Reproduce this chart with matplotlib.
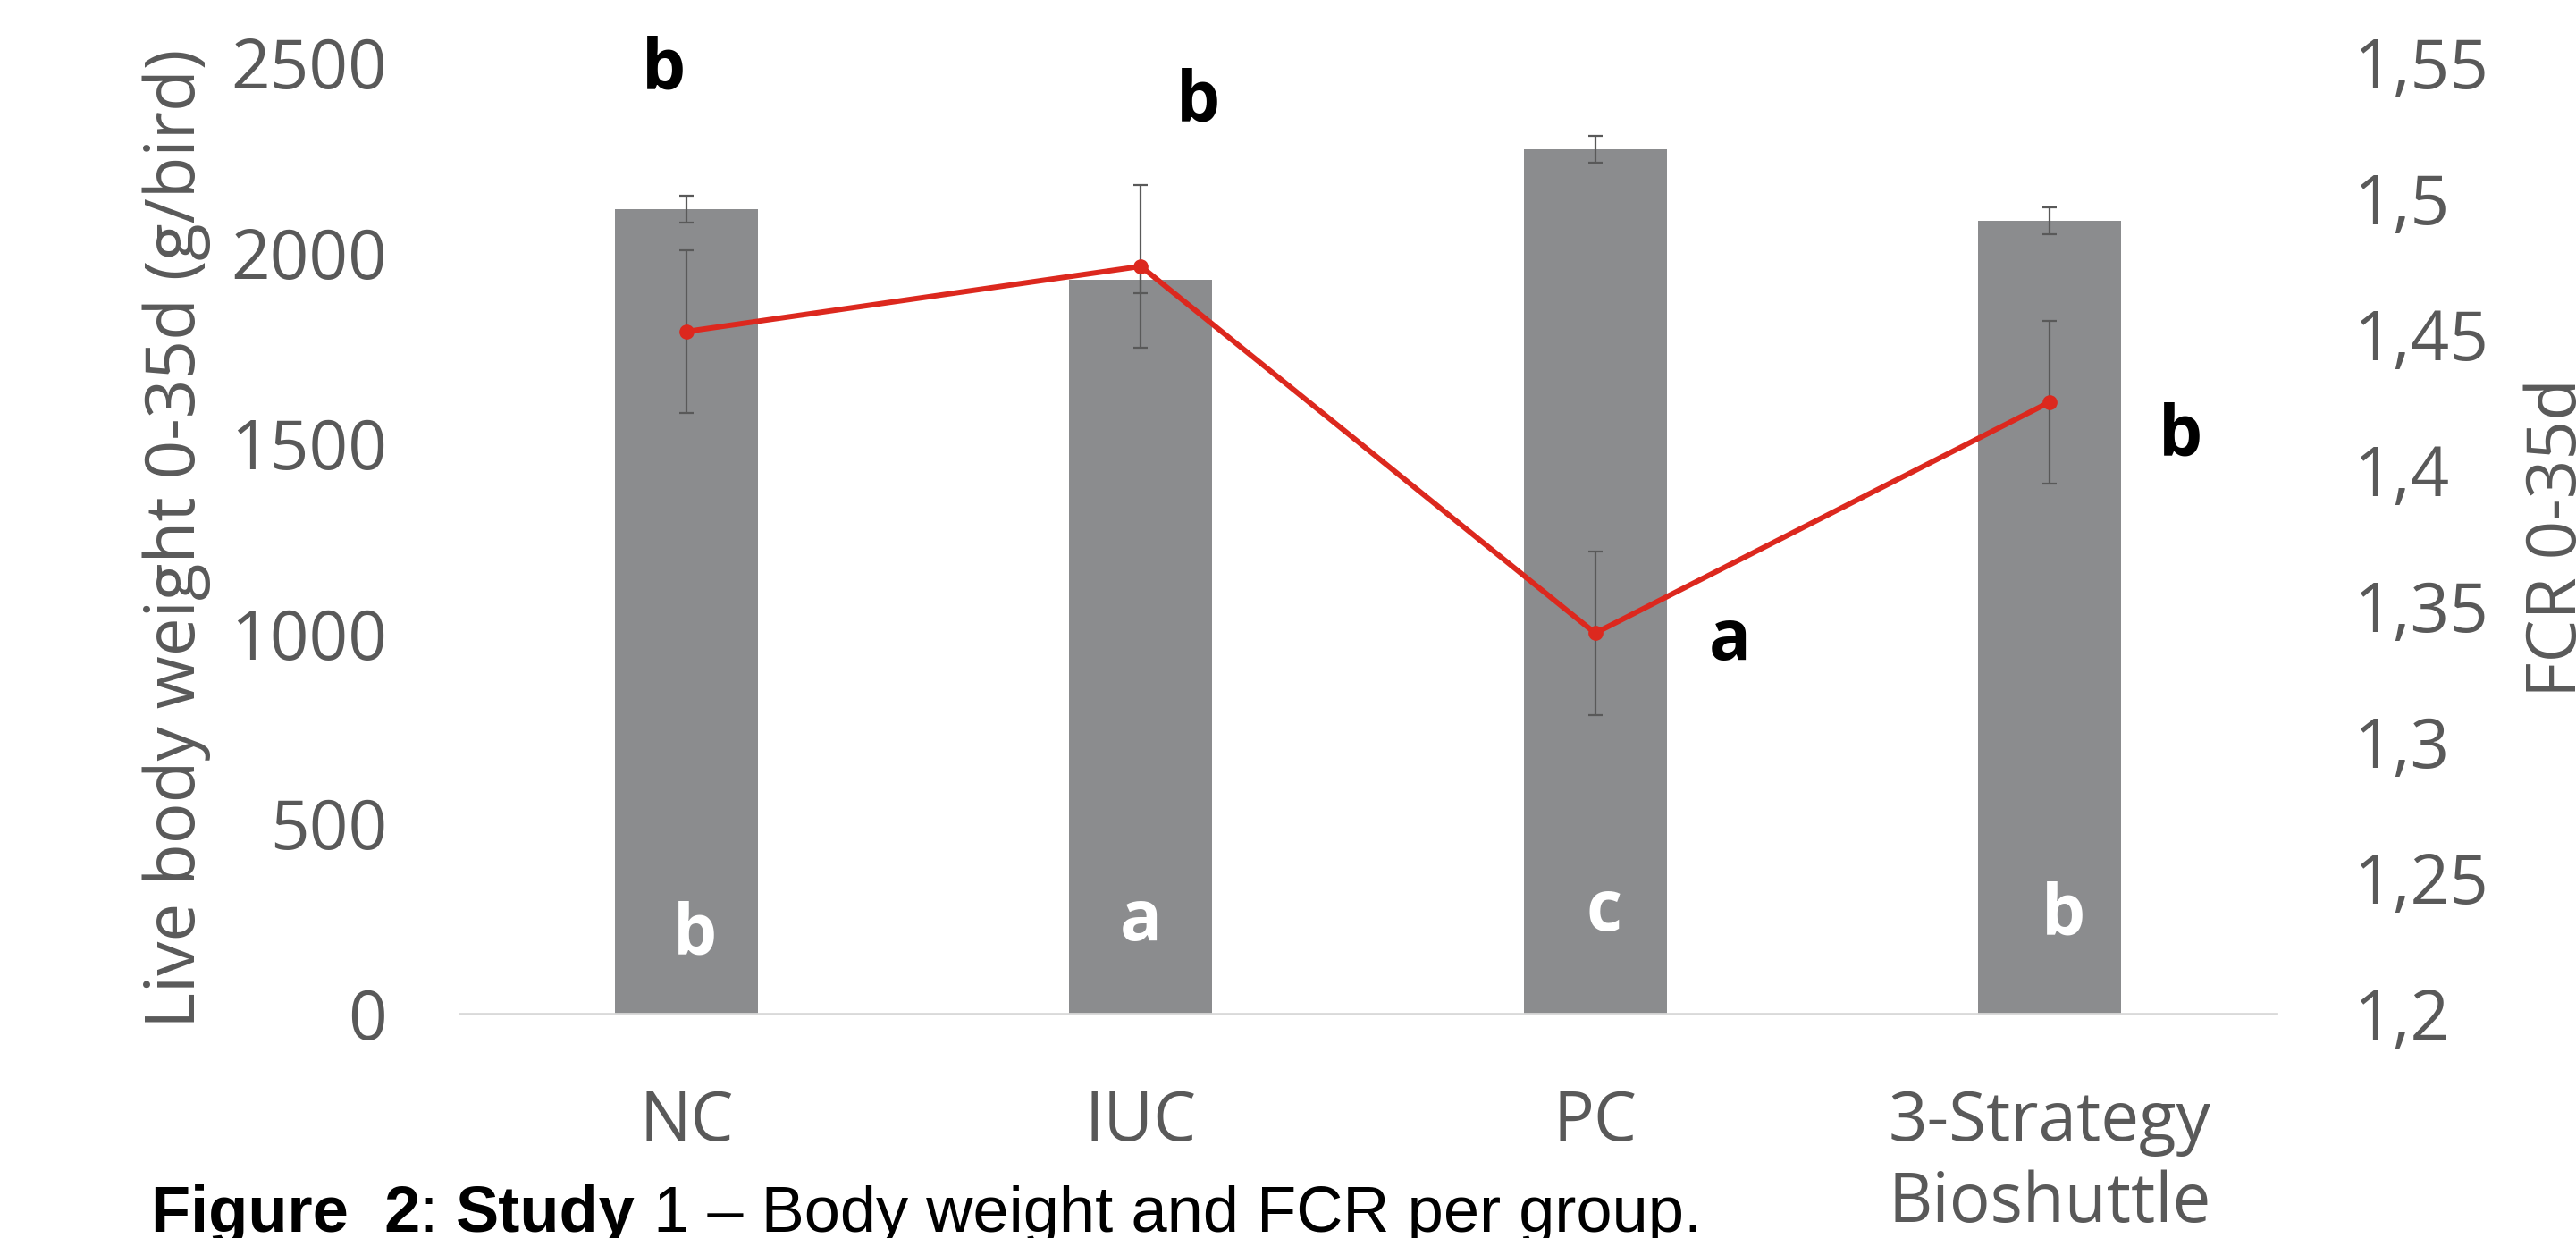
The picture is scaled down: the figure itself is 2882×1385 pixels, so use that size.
import matplotlib.pyplot as plt

# Datos de la figura
grupos = ['NC', 'IUC', 'PC', '3-Strategy\nBioshuttle']
peso = [2115, 1929, 2272, 2084]
peso_err = [35, 35, 36, 35]
fcr = [1.451, 1.475, 1.340, 1.425]
fcr_err = [0.030, 0.030, 0.030, 0.030]
letras_peso = ['b', 'a', 'c', 'b']
letras_fcr = ['b', 'b', 'a', 'b']

fcr_ticks = [1.2, 1.25, 1.3, 1.35, 1.4, 1.45, 1.5, 1.55]
fcr_labels = ['1,2', '1,25', '1,3', '1,35', '1,4', '1,45', '1,5', '1,55']

# Colores
gris = '#8b8c8e'
gris_texto = '#595959'
rojo = '#dc281e'

plt.rcParams['font.family'] = ['Open Sans', 'DejaVu Sans']

fig = plt.figure(figsize=(28.82, 13.85), dpi=100)
ax = fig.add_axes([0.1783, 0.1813, 0.7055, 0.7682])
ax2 = ax.twinx()

x = list(range(len(grupos)))

# Barras de peso vivo
ax.bar(x, peso, width=0.315, color=gris, zorder=2)
ax.errorbar(x, peso, yerr=peso_err, fmt='none', ecolor=gris_texto,
            elinewidth=1.6, capsize=6, capthick=1.6, zorder=3)

ax.set_xlim(-0.5, 3.5)
ax.set_ylim(0, 2500)
ax.set_yticks([0, 500, 1000, 1500, 2000, 2500])
ax.set_xticks(x)
ax.set_xticklabels(grupos, linespacing=1.25)
ax.tick_params(axis='y', length=0, pad=58, labelsize=55, labelcolor=gris_texto)
ax.tick_params(axis='x', length=0, pad=60, labelsize=55, labelcolor=gris_texto)
ax.set_ylabel('Live body weight 0-35d (g/bird)', fontsize=55,
              color=gris_texto, labelpad=16)

for s in ['top', 'left', 'right']:
    ax.spines[s].set_visible(False)
ax.spines['bottom'].set_color('#d9d9d9')
ax.spines['bottom'].set_linewidth(2)

# Linea de FCR
ax2.errorbar(x, fcr, yerr=fcr_err, fmt='none', ecolor=gris_texto,
             elinewidth=1.6, capsize=6, capthick=1.6, zorder=3)
ax2.plot(x, fcr, color=rojo, linewidth=4.3, marker='o', markersize=11, zorder=4)
ax2.set_ylim(1.2, 1.55)
ax2.set_yticks(fcr_ticks)
ax2.set_yticklabels(fcr_labels)
ax2.tick_params(axis='y', length=0, pad=62, labelsize=55, labelcolor=gris_texto)
ax2.set_ylabel('FCR 0-35d', fontsize=55, color=gris_texto, labelpad=28)
for s in ['top', 'left', 'right', 'bottom']:
    ax2.spines[s].set_visible(False)

# Letras de significancia (blancas dentro de las barras)
pos_blancas = [(0.018, 157), (1.0, 193), (2.02, 219), (3.03, 207)]
for (px, py), l in zip(pos_blancas, letras_peso):
    ax.text(px, py, l, color='white', fontsize=56, fontweight='bold',
            ha='center', va='baseline', zorder=5)

# Letras de significancia del FCR (negras)
pos_negras = [(-0.05, 2430), (1.126, 2347), (2.296, 930), (3.289, 1466)]
for (px, py), l in zip(pos_negras, letras_fcr):
    ax.text(px, py, l, color='black', fontsize=56, fontweight='bold',
            ha='center', va='baseline', zorder=5)

# Pie de figura con partes en negrita
partes = [('Figure  2', 'bold'), (': ', 'normal'), ('Study', 'bold'),
          (' 1 \u2013 Body weight and FCR per group.', 'normal')]
t = fig.text(0.0586, 0.005, partes[0][0], fontsize=52, fontweight=partes[0][1],
             family=['Liberation Sans', 'DejaVu Sans'], va='baseline')
for texto, peso_f in partes[1:]:
    t = ax.annotate(texto, xy=(1, 0), xycoords=t, fontsize=52,
                    fontweight=peso_f, family=['Liberation Sans', 'DejaVu Sans'],
                    va='bottom', annotation_clip=False)

fig.savefig('out.png', dpi=100)
